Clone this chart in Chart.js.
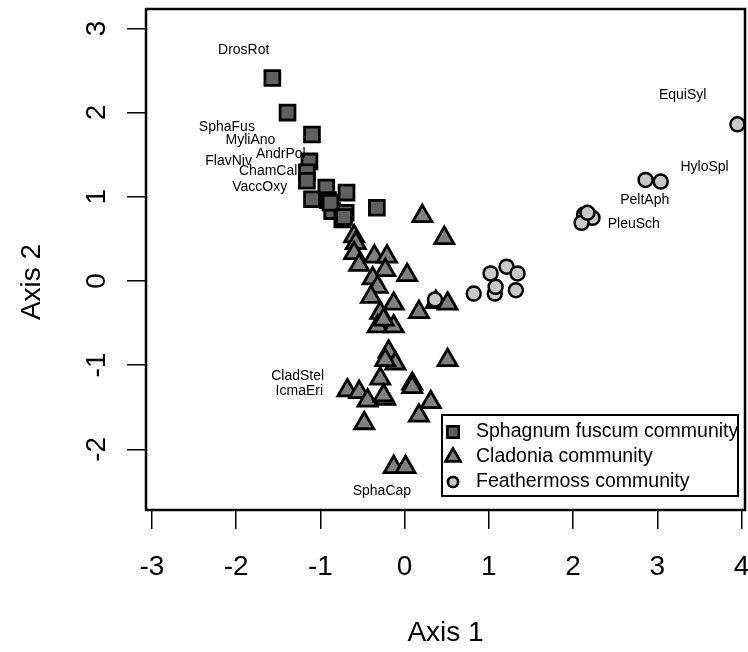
<!DOCTYPE html>
<html>
<head>
<meta charset="utf-8">
<script src="https://cdn.jsdelivr.net/npm/chart.js@4/dist/chart.umd.min.js"></script>
<style>
  html, body { margin: 0; padding: 0; background: #fff; }
  canvas { display: block; }
</style>
</head>
<body>
<canvas id="chart" width="748" height="652"></canvas>
<script>
// tick labels
const xTicks = [-3, -2, -1, 0, 1, 2, 3, 4];
const yTicks = [-2, -1, 0, 1, 2, 3];

// sites, by community
const sphagnumX = [-1.57, -1.39, -1.10, -1.13, -1.16, -1.16, -0.93, -1.10, -0.91, -0.69, -0.86, -0.74, -0.70, -0.33, -0.88, -0.72];
const sphagnumY = [2.41, 2.00, 1.74, 1.42, 1.29, 1.19, 1.11, 0.97, 0.96, 1.05, 0.83, 0.73, 0.81, 0.87, 0.93, 0.76];

const cladoniaX = [0.21, 0.47, -0.60, -0.58, -0.60, -0.54, -0.36, -0.21, -0.23, 0.03, -0.38, -0.32, -0.40, -0.13, 0.17, 0.37, 0.51,
  -0.29, -0.32, -0.13, -0.25, -0.19, -0.11, -0.23, 0.51, -0.29, 0.09, 0.09, -0.68, -0.54, -0.44, -0.23, -0.25, 0.31, 0.17, -0.48, -0.13, 0.01];
const cladoniaY = [0.77, 0.51, 0.53, 0.45, 0.33, 0.19, 0.29, 0.29, 0.13, 0.07, 0.03, -0.07, -0.19, -0.27, -0.37, -0.25, -0.27,
  -0.38, -0.54, -0.54, -0.46, -0.84, -0.98, -0.94, -0.94, -1.16, -1.22, -1.26, -1.30, -1.32, -1.42, -1.40, -1.36, -1.44, -1.60, -1.69, -2.21, -2.21];

const featherX = [0.36, 0.82, 1.02, 1.21, 1.34, 1.32, 1.07, 1.08, 2.13, 2.23, 2.10, 2.17, 2.86, 3.04, 3.95];
const featherY = [-0.22, -0.15, 0.09, 0.17, 0.09, -0.11, -0.15, -0.07, 0.79, 0.75, 0.69, 0.81, 1.20, 1.18, 1.86];

// species scores (labels only)
const speciesNames = ['DrosRot', 'SphaFus', 'MyliAno', 'AndrPol', 'FlavNiv', 'ChamCal', 'VaccOxy',
  'CladStel', 'IcmaEri', 'SphaCap', 'EquiSyl', 'HyloSpl', 'PeltAph', 'PleuSch'];
const speciesX = [-1.91, -2.11, -1.83, -1.47, -2.09, -1.62, -1.72, -1.27, -1.25, -0.27, 3.30, 3.56, 2.85, 2.72];
const speciesY = [2.74, 1.83, 1.67, 1.51, 1.42, 1.30, 1.11, -1.13, -1.31, -2.50, 2.21, 1.35, 0.96, 0.68];

const legendLabels = ['Sphagnum fuscum community', 'Cladonia community', 'Feathermoss community'];

const font = '"Liberation Sans", Arial, sans-serif';
const fills = ['#5e625e', '#808080', '#c8c8c8'];

function pts(xs, ys) {
	return xs.map((x, i) => ({x: x, y: ys[i]}));
}

const rPlot = {
	id: 'rPlot',
	afterDatasetsDraw(chart) {
		const ctx = chart.ctx;
		const sx = chart.scales.x;
		const sy = chart.scales.y;
		const area = chart.chartArea;
		ctx.save();
		ctx.fillStyle = '#000';

		// species labels
		ctx.font = '14px ' + font;
		ctx.textAlign = 'center';
		ctx.textBaseline = 'middle';
		speciesNames.forEach((name, i) => {
			ctx.fillText(name, sx.getPixelForValue(speciesX[i]), sy.getPixelForValue(speciesY[i]));
		});

		// box
		ctx.strokeStyle = '#000';
		ctx.lineWidth = 2.5;
		ctx.strokeRect(area.left, area.top, area.right - area.left, area.bottom - area.top);

		// tick labels
		ctx.font = '28px ' + font;
		for (let v of xTicks) {
			ctx.fillText(String(v), sx.getPixelForValue(v), 567);
		}
		for (let v of yTicks) {
			ctx.save();
			ctx.translate(97, sy.getPixelForValue(v));
			ctx.rotate(-Math.PI / 2);
			ctx.fillText(String(v), 0, 0);
			ctx.restore();
		}

		// axis titles
		ctx.fillText('Axis 1', (area.left + area.right) / 2, 633);
		ctx.save();
		ctx.translate(32, 282);
		ctx.rotate(-Math.PI / 2);
		ctx.fillText('Axis 2', 0, 0);
		ctx.restore();

		// legend
		ctx.lineWidth = 2;
		ctx.strokeRect(442, 415, 296, 81);
		const styles = ['rect', 'triangle', 'circle'];
		const radii = [8, 8.5, 5];
		ctx.font = '19.5px ' + font;
		ctx.textAlign = 'left';
		legendLabels.forEach((label, i) => {
			const y = 432 + i * 25;
			ctx.fillStyle = fills[i];
			ctx.strokeStyle = '#000';
			ctx.lineWidth = 2.5;
			Chart.helpers.drawPoint(ctx, {pointStyle: styles[i], radius: radii[i], borderWidth: 2.5}, 453, y);
			ctx.fill();
			ctx.stroke();
			ctx.fillStyle = '#000';
			ctx.fillText(label, 476, y);
		});
		ctx.restore();
	}
};

const axisGrid = {drawOnChartArea: false, drawTicks: true, tickLength: 19, color: '#000', lineWidth: 1.5};

new Chart(document.getElementById('chart'), {
	type: 'scatter',
	data: {
		datasets: [
			{
				label: legendLabels[0],
				data: pts(sphagnumX, sphagnumY),
				pointStyle: 'rect',
				pointRadius: 10.5,
				backgroundColor: fills[0],
				borderColor: '#000',
				borderWidth: 2.8,
				order: 3,
			},
			{
				label: legendLabels[1],
				data: pts(cladoniaX, cladoniaY),
				pointStyle: 'triangle',
				pointRadius: 11,
				backgroundColor: fills[1],
				borderColor: '#000',
				borderWidth: 2.8,
				order: 2,
			},
			{
				label: legendLabels[2],
				data: pts(featherX, featherY),
				pointStyle: 'circle',
				pointRadius: 7,
				backgroundColor: fills[2],
				borderColor: '#000',
				borderWidth: 2.5,
				order: 1,
			},
		],
	},
	options: {
		responsive: false,
		animation: false,
		events: [],
		layout: {autoPadding: false, padding: {top: 9, right: 3, left: 0, bottom: 0}},
		plugins: {
			legend: {display: false},
			tooltip: {enabled: false},
		},
		scales: {
			x: {
				type: 'linear',
				min: -3.07,
				max: 4.04,
				ticks: {display: false},
				grid: axisGrid,
				border: {display: false},
				afterBuildTicks: s => { s.ticks = xTicks.map(v => ({value: v})); },
				afterFit: s => { s.height = 142; },
			},
			y: {
				type: 'linear',
				min: -2.72,
				max: 3.23,
				ticks: {display: false},
				grid: axisGrid,
				border: {display: false},
				afterBuildTicks: s => { s.ticks = yTicks.map(v => ({value: v})); },
				afterFit: s => { s.width = 146; },
			},
		},
	},
	plugins: [rPlot],
});
</script>
</body>
</html>
